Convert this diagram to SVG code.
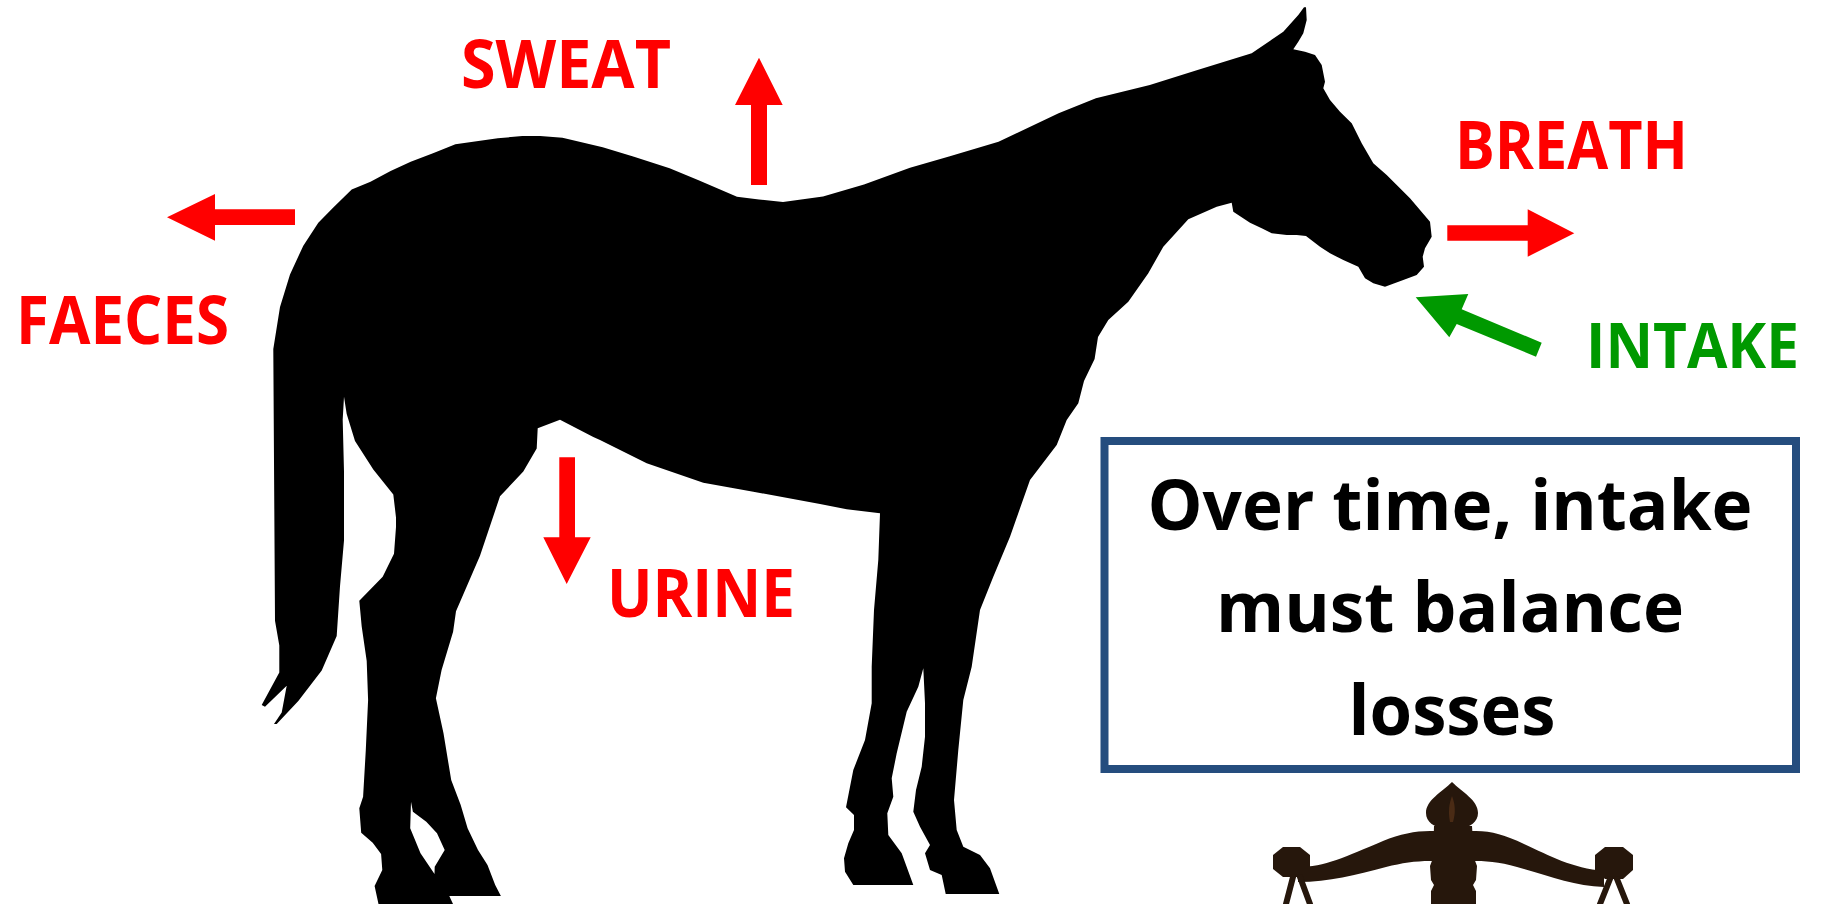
<svg xmlns="http://www.w3.org/2000/svg" width="1822" height="904" viewBox="0 0 1822 904">
  <style>
    .label { font-family: "Open Sans", "Liberation Sans", sans-serif; font-weight: bold; font-size: 66px; }
    .loss { fill: #FF0000; }
    .gain { fill: #009900; }
    .note { font-family: "Open Sans", "Liberation Sans", sans-serif; font-weight: bold; font-size: 70px; fill: #000000; text-anchor: middle; }
    .frame { fill: #FFFFFF; stroke: #254D7E; stroke-width: 8; }
    .wood { fill: #26170C; }
    .cord { stroke: #26170C; stroke-width: 6; stroke-linecap: round; fill: none; }
  </style>
  <rect width="1822" height="904" fill="#FFFFFF"/>

  <!-- horse silhouette -->
  <g id="horse">
    <path fill="#000000" fill-rule="evenodd" d="M273.3,349 L280,306.9 L290,274.4 L303.3,245.7 L318.3,222.7 L333.3,207.4 L351.7,189.4 L370.5,181.7 L390.6,171 L410.7,161.7 L433,153.3 L455.4,144.3 L497.8,138.3 L522.3,136 L540.2,136 L562.5,137.7 L602.7,147.3 L634,156.7 L669.6,168.3 L698,180 L737,196.7 L759,199.5 L783,202 L823,196.5 L864,184.5 L910,167.7 L949,156.5 L998.5,141.7 L1058.6,113.3 L1095.9,98.3 L1149.8,85 L1197.5,70 L1251.7,53.3 L1283.3,31.7 L1298.3,15 L1304,7.3 L1306,7.3 L1306.7,20 L1303.3,33.3 L1298.3,41.7 L1293.3,49.3 L1305,51.7 L1315,55 L1321.7,65 L1325,81.7 L1323.3,88.3 L1330,100 L1340,111.7 L1351.7,123.3 L1361.7,143.3 L1373.3,163.3 L1386.7,175 L1410,198.3 L1430,221.7 L1431.7,236.7 L1425,248.3 L1422.7,256.7 L1424,266.7 L1416.7,275 L1403.3,280 L1385,286.7 L1373.3,283.3 L1365,278.3 L1358.3,266.7 L1343.3,260 L1330,253.3 L1320,246.7 L1306,236 L1296.7,235 L1286.7,235 L1271.7,233.3 L1261.7,228.3 L1250,222.7 L1233.3,211.7 L1231.7,202.7 L1216.7,206.7 L1188.3,219.3 L1163.3,246.7 L1148.3,273.3 L1128.3,301.7 L1108.3,320 L1098,337 L1094.6,359 L1084,381 L1078.3,403.3 L1066.7,420 L1056.7,445 L1030,480 L1010,536.7 L993.3,576.7 L980,610 L971.7,666.7 L963.3,700 L958.3,750 L954,800 L956.7,830 L963.3,846.7 L980,855 L990,868.3 L999.3,894 L945.7,894 L941.7,875 L930,870 L925,853.3 L930,845 L920,826.7 L913.3,811.7 L916,790 L921.7,766.7 L925,736.7 L925,703.3 L923.3,668.3 L918.3,686.7 L906.7,711.7 L896.7,753.3 L891.7,778.3 L893.3,796.7 L887.3,813.3 L888.3,835 L901.7,853.3 L913.3,885 L853.3,885 L845,871.7 L844,858.3 L848.3,843.3 L854,830 L854,815 L846,807.3 L853.3,770 L865,740 L871.7,703.3 L871.7,666.7 L874,610 L878.3,560 L880,513.3 L846.7,509.3 L820,504 L753.3,491.7 L703.3,482.7 L646.7,463.3 L600,440 L593.3,437 L560,419.8 L537.7,428.2 L536.7,448.5 L523.3,471.5 L500,496.3 L480,555.7 L456,611.2 L453.1,631.7 L441.6,670 L435.9,698.3 L443.5,733.3 L451.2,780 L460.7,805 L467.6,828.3 L478,850 L487.5,865 L495.2,885 L500.9,896 L449.3,896 L453,904 L378.5,904 L374.6,886 L382.3,870 L381.1,854 L372.7,842.7 L361.2,832.7 L359.3,808.3 L363.1,796.7 L365.8,750 L368.1,700 L366.7,660.9 L361.7,626.5 L359.3,600.8 L382.7,576.7 L394,553.7 L396,527 L396,517.4 L393.3,494.4 L373.3,469.6 L355,440.9 L346.7,414 L344,396.8 L342.7,419.8 L344,471.5 L344,540.4 L340,586.3 L336.7,636 L321.7,670.5 L298.3,701 L276.7,724 L274,724 L281.7,712.6 L286.7,685.8 L265,706.8 L261.7,705 L279.3,672.4 L279.3,645.6 L275,620.7 Z M411,801.7 L412.9,811.7 L426.3,821.7 L437,833.3 L444.7,850 L434.7,866.7 L434.5,874 L420.5,853.3 L410.2,828.3 Z"/>
  </g>

  <!-- flow labels -->
  <g id="label-faeces"><text class="label loss" x="16" y="344" textLength="213" lengthAdjust="spacingAndGlyphs">FAECES</text></g>
  <g id="label-sweat"><text class="label loss" x="461" y="88" textLength="210" lengthAdjust="spacingAndGlyphs">SWEAT</text></g>
  <g id="label-breath"><text class="label loss" x="1455" y="169" textLength="233" lengthAdjust="spacingAndGlyphs">BREATH</text></g>
  <g id="label-intake"><text class="label gain" x="1586" y="368" style="font-size:63px" textLength="213" lengthAdjust="spacingAndGlyphs">INTAKE</text></g>
  <g id="label-urine"><text class="label loss" x="607" y="617" textLength="188" lengthAdjust="spacingAndGlyphs">URINE</text></g>

  <!-- block arrows for each flow -->
  <g id="connectors">
    <polygon class="loss" points="167,217.3 215,194 215,209.3 295,209.3 295,225 215,225 215,240.7"/>
    <polygon class="loss" points="759,57.7 782.7,105 767,105 767,185 751,185 751,105 735,105"/>
    <polygon class="loss" points="1574.3,233.3 1527.7,256.7 1527.7,240.7 1447.3,240.7 1447.3,225.3 1527.7,225.3 1527.7,209.3"/>
    <polygon class="loss" points="566.7,584 543.3,537.3 559.3,537.3 559.3,457.3 575,457.3 575,537.3 590.7,537.3"/>
    <polygon class="gain" points="1415.7,297.3 1468.3,294 1461.7,309.3 1541.7,342.7 1536,356.7 1456.7,324 1449.3,337.3"/>
  </g>

  <!-- statement box -->
  <g id="balance-note">
    <rect class="frame" x="1104.5" y="441" width="691.5" height="328"/>
    <text class="note" x="1450" y="530" textLength="605" lengthAdjust="spacingAndGlyphs">Over time, intake</text>
    <text class="note" x="1450" y="632" textLength="468" lengthAdjust="spacingAndGlyphs">must balance</text>
    <text class="note" x="1452" y="735" textLength="207" lengthAdjust="spacingAndGlyphs">losses</text>
  </g>

  <!-- balance scale top -->
  <g id="scale">
    <path class="wood" d="M1452,782 C1462,792 1478,800 1478,813 C1478,822 1470,827 1460,829 L1445,829 C1434,827 1426,822 1426,813 C1426,800 1442,792 1452,782 Z"/>
    <path d="M1452,796 C1455,804 1456,812 1453,822 L1450,822 C1448,812 1449,804 1452,796 Z" fill="#4A2B15"/>
    <path class="wood" d="M1434,826 L1472,826 L1474,858 L1477,866 L1476,880 L1473,885 L1476,891 L1476,904 L1431,904 L1431,891 L1434,885 L1431,880 L1430,866 L1433,858 Z"/>
    <path class="wood" d="M1298,867 C1325,867 1345,857 1383,841 C1400,834 1415,831 1430,831 L1476,831 C1492,831 1505,835 1524,844 C1550,856 1572,868 1604,871 L1604,887 C1576,886 1552,877 1524,869 C1505,863 1490,861 1476,861 L1430,861 C1415,861 1402,863 1386,867 C1355,875 1330,882 1298,882 Z"/>
    <polygon class="wood" points="1283,847 1300,847 1310,855 1310,869 1300,877 1283,877 1273,869 1273,855"/>
    <polygon class="wood" points="1605,847 1623,847 1633,855 1633,870 1623,879 1605,879 1595,870 1595,855"/>
    <line class="cord" x1="1293" y1="877" x2="1286" y2="904"/>
    <line class="cord" x1="1300" y1="877" x2="1310" y2="904"/>
    <line class="cord" x1="1610" y1="879" x2="1600" y2="904"/>
    <line class="cord" x1="1617" y1="879" x2="1627" y2="904"/>
  </g>
</svg>
